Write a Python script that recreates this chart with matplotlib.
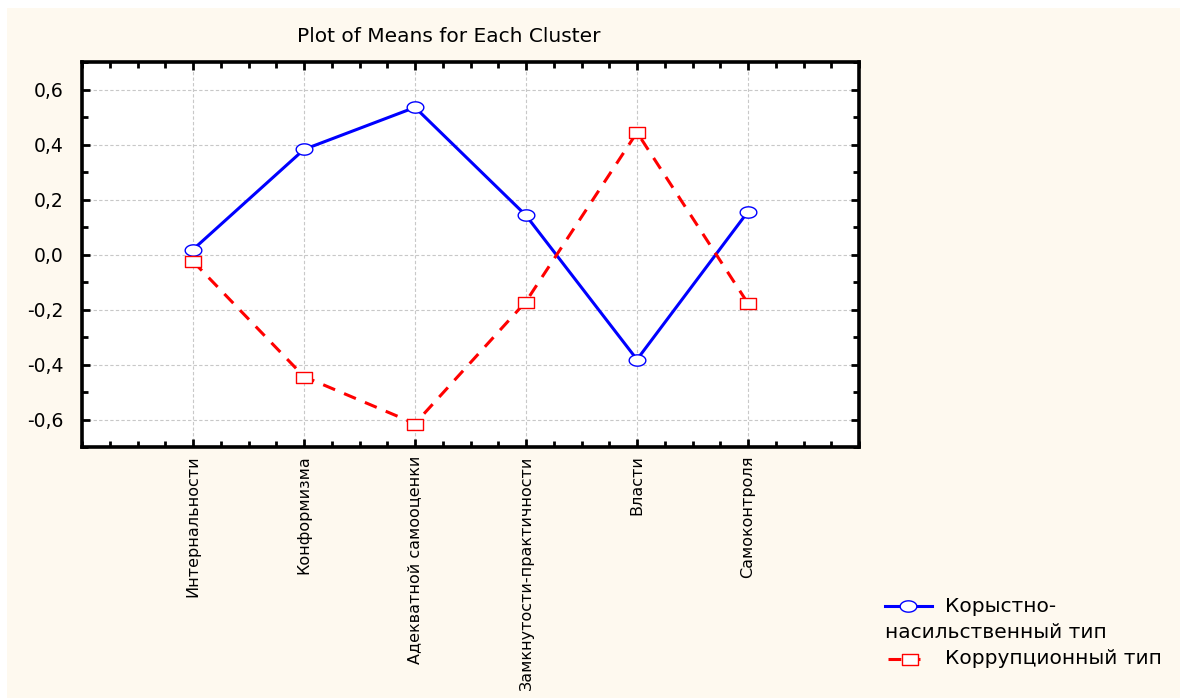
import matplotlib
matplotlib.use("Agg")
import numpy as np
import matplotlib.pyplot as plt
from matplotlib.lines import Line2D
from matplotlib.patches import Rectangle
from matplotlib.path import Path
from matplotlib.ticker import MultipleLocator, FixedLocator

categories = ["Интернальности", "Конформизма", "Адекватной самооценки",
              "Замкнутости-практичности", "Власти", "Самоконтроля"]
series1_name = "Корыстно-\nнасильственный тип"
series1 = [0.018, 0.382, 0.535, 0.142, -0.382, 0.156]
series2_name = "Коррупционный тип"
series2 = [-0.025, -0.444, -0.615, -0.171, 0.444, -0.178]
yticks = [-0.6, -0.4, -0.2, 0.0, 0.2, 0.4, 0.6]
title = "Plot of Means for Each Cluster"

plt.rcParams['font.family'] = ['DejaVu Sans']

# slightly wide marker shapes (the original is horizontally stretched)
t = np.linspace(0, 2*np.pi, 41)
ellipse = Path(np.column_stack([np.cos(t), 0.68*np.sin(t)]), closed=True)
wide_sq = Path([(-1, -0.72), (1, -0.72), (1, 0.72), (-1, 0.72), (-1, -0.72)], closed=True)

W, H = 1180, 699
fig = plt.figure(figsize=(W/100, H/100), dpi=100)
fig.patch.set_facecolor('white')
cream = '#FEF9EF'
fig.add_artist(Rectangle((7/W, 1/H), (W-7)/W, (H-8-1)/H, transform=fig.transFigure,
                         facecolor=cream, edgecolor='none', zorder=-10))

ax = fig.add_axes([82/W, 1-447/H, (859-82)/W, (447-62)/H])
ax.set_facecolor('white')
x = list(range(1, len(categories)+1))
ax.plot(x, series1, color='#0000FF', lw=2.2, marker=ellipse, ms=12,
        mfc='white', mec='#0000FF', mew=1.0, zorder=3)
ax.plot(x, series2, color='#FF0000', lw=2.2, ls=(0, (4.2, 3.2)), marker=wide_sq, ms=11,
        mfc='white', mec='#FF0000', mew=1.0, zorder=3)

ax.set_xlim(0, 7)
ax.set_ylim(-0.7, 0.7)
ax.xaxis.set_major_locator(FixedLocator(x))
ax.xaxis.set_minor_locator(MultipleLocator(0.25))
ax.set_xticks(x)
ax.set_xticklabels(categories, rotation=90, fontsize=11.5, va='top')
ax.set_yticks(yticks)
ax.set_yticklabels([f"{v:.1f}".replace('.', ',').replace('-0,0', '0,0') for v in yticks], fontsize=13.5)
ax.yaxis.set_minor_locator(MultipleLocator(0.1))
ax.tick_params(which='both', direction='in', top=True, right=True, width=2, color='black')
ax.tick_params(which='major', length=6)
ax.tick_params(which='minor', length=4)
ax.tick_params(axis='y', which='major', pad=13)
ax.tick_params(axis='x', which='major', pad=6)
ax.grid(True, which='major', color='#C8C8C8', ls=(0, (3, 2)), lw=0.8)
for s in ax.spines.values():
    s.set_linewidth(2.6)
    s.set_color('black')

fig.text(449/W, 1-36/H, title, ha='center', va='center', fontsize=14.5)

# legend
ly1 = 1 - 606/H
fig.add_artist(Line2D([885/W, 932/W], [ly1, ly1], color='#0000FF', lw=2.2,
                      transform=fig.transFigure))
fig.add_artist(Line2D([908/W], [ly1], color='#0000FF', marker=ellipse, ms=12,
                      mfc='white', mec='#0000FF', mew=1.0, transform=fig.transFigure))
fig.text(945/W, ly1, series1_name.split('\n')[0], ha='left', va='center', fontsize=14.5)
fig.text(885/W, 1-633/H, series1_name.split('\n')[1], ha='left', va='center', fontsize=14.5)
ly2 = 1 - 659/H
fig.add_artist(Line2D([888/W, 920/W], [ly2, ly2], color='#FF0000', lw=2.2,
                      ls=(0, (4.2, 3.2)), transform=fig.transFigure))
fig.add_artist(Line2D([910/W], [ly2], color='#FF0000', marker=wide_sq, ms=11,
                      mfc='white', mec='#FF0000', mew=1.0, transform=fig.transFigure))
fig.text(945/W, ly2, series2_name, ha='left', va='center', fontsize=14.5)

fig.savefig('out.png', dpi=100, facecolor=fig.get_facecolor())
